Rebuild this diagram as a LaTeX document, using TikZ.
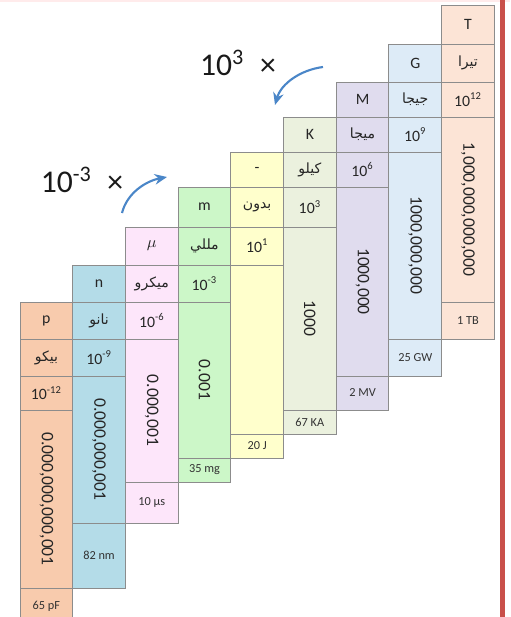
\documentclass[tikz,border=0pt]{standalone}
\usepackage{fontspec}
\setmainfont{Carlito}
\newfontfamily\arabicfont[Script=Arabic]{DejaVu Sans}
\TeXXeTstate=1
\usetikzlibrary{arrows.meta}
\definecolor{pcol}{HTML}{F8CBAD}
\definecolor{ncol}{HTML}{B4DCE8}
\definecolor{ucol}{HTML}{FDE6FA}
\definecolor{mcol}{HTML}{CCF7C8}
\definecolor{ycol}{HTML}{FFFFCC}
\definecolor{kcol}{HTML}{EBF1DE}
\definecolor{megcol}{HTML}{E0DCEE}
\definecolor{gcol}{HTML}{DDEBF7}
\definecolor{tcol}{HTML}{FCE4D6}
\definecolor{edge}{HTML}{8C8C8C}
\definecolor{arrowblue}{HTML}{4A86C8}
\definecolor{redbar}{HTML}{C9504A}
\newcommand{\arname}[1]{{\arabicfont\beginR #1\endR}}

\begin{document}
\begin{tikzpicture}[x=0.02cm, y=-0.02cm,
  cell/.style={draw=edge, line width=0.5pt},
  txt/.style={font=\fontsize{9}{11}\selectfont, text=black!85},
  artxt/.style={font=\fontsize{8}{10}\selectfont, text=black!85},
  numtxt/.style={font=\fontsize{10}{12}\selectfont, text=black!85, rotate=-90},
  labtxt/.style={font=\fontsize{7}{9}\selectfont, text=black!80},
  factor/.style={font=\fontsize{18}{20}\selectfont, text=black!90},
  curvearrow/.style={draw=arrowblue, line width=1.2pt, -{Stealth[length=7pt,width=6pt]}}]
  \clip (0,0) rectangle (510,617);
  \fill[white] (0,0) rectangle (510,617);
  \fill[red!8] (0,0) rectangle (510,2);

  % prefix columns, from pico to tera
  \foreach \i/\ta/\tb/\tc/\td/\bb/\lb/\col/\sym/\ar/\pw/\num/\lab in {
    0/302/339/376/410/588/625/pcol/p/بيكو/{10\textsuperscript{-12}}/{0.000,000,000,001}/65 pF,
    1/265/302/339/376/523/588/ncol/n/نانو/{10\textsuperscript{-9}}/{0.000,000,001}/82 nm,
    2/227/265/302/339/482/523/ucol/{$\mu$}/ميكرو/{10\textsuperscript{-6}}/{0.000,001}/10 μs,
    3/187/227/265/302/458/482/mcol/m/مللي/{10\textsuperscript{-3}}/{0.001}/35 mg,
    4/152/187/227/265/434/458/ycol/-/بدون/{10\textsuperscript{1}}/{}/20 J,
    5/117/152/187/227/410/434/kcol/K/كيلو/{10\textsuperscript{3}}/{1000}/67 KA,
    6/82/117/152/187/376/410/megcol/M/ميجا/{10\textsuperscript{6}}/{1000,000}/2 MV,
    7/44/82/117/152/339/376/gcol/G/جيجا/{10\textsuperscript{9}}/{1000,000,000}/25 GW,
    8/5/44/82/117/302/339/tcol/T/تيرا/{10\textsuperscript{12}}/{1,000,000,000,000}/1 TB}
  {
    \pgfmathsetmacro\xl{20+52.7*\i}
    \pgfmathsetmacro\xr{\xl+52.7}
    \pgfmathsetmacro\xc{\xl+26.35}
    \draw[cell, fill=\col] (\xl,\ta) rectangle (\xr,\tb);
    \draw[cell, fill=\col] (\xl,\tb) rectangle (\xr,\tc);
    \draw[cell, fill=\col] (\xl,\tc) rectangle (\xr,\td);
    \draw[cell, fill=\col] (\xl,\td) rectangle (\xr,\bb);
    \draw[cell, fill=\col] (\xl,\bb) rectangle (\xr,\lb);
    \node[txt] (sym\i) at (\xc,{(\ta+\tb)/2}) {\sym};
    \node[artxt] (ar\i) at (\xc,{(\tb+\tc)/2}) {\arname{\ar}};
    \node[txt] (pw\i) at (\xc,{(\tc+\td)/2}) {\pw};
    \node[numtxt] (num\i) at (\xc,{(\td+\bb)/2}) {\num};
    \node[labtxt] (lab\i) at (\xc,{(\bb+\lb)/2}) {\lab};
  }

  % conversion factors
  \node[factor] (down) at (82,180) {10\textsuperscript{-3}\hspace{0.5em}×};
  \node[factor] (up) at (238,63) {10\textsuperscript{3}\hspace{0.5em}×};
  \coordinate (downA) at (122,213);
  \coordinate (downB) at (167,177);
  \coordinate (upA) at (323,67);
  \coordinate (upB) at (275,105);
  \draw[curvearrow] (downA) .. controls (127,193) and (146,181) .. (downB);
  \draw[curvearrow] (upA) .. controls (300,70) and (281,84) .. (upB);

  \fill[redbar] (500,0) rectangle (505,617);
\end{tikzpicture}
\end{document}
